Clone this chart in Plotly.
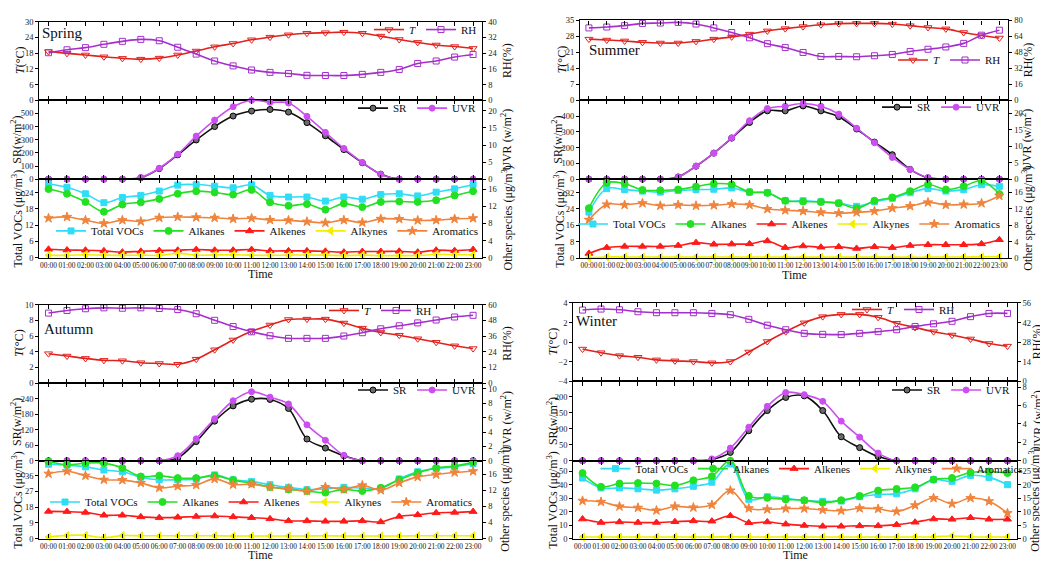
import plotly.graph_objects as go

W, H = 1040, 562
FONT = "Liberation Serif, Times New Roman, serif"

hours = ["00:00", "01:00", "02:00", "03:00", "04:00", "05:00", "06:00", "07:00",
         "08:00", "09:00", "10:00", "11:00", "12:00", "13:00", "14:00", "15:00",
         "16:00", "17:00", "18:00", "19:00", "20:00", "21:00", "22:00", "23:00"]
season_names = ["Spring", "Summer", "Autumn", "Winter"]

# ---------------- Spring ----------------
spring_T = [18.6, 17.9, 17.3, 16.6, 16.0, 15.7, 16.1, 17.3, 18.8, 20.4, 21.7, 23.1,
            24.1, 25.0, 25.6, 25.8, 26.0, 25.6, 24.5, 23.2, 22.1, 21.1, 20.5, 19.8]
spring_RH = [24.2, 25.7, 26.8, 28.5, 30.0, 31.0, 30.3, 27.0, 23.5, 20.0, 17.5, 15.4,
             14.2, 13.6, 12.7, 12.6, 12.6, 13.2, 14.2, 15.7, 18.7, 20.0, 22.0, 23.3]
spring_SR = [0, 0, 0, 0, 0, 10, 80, 185, 298, 400, 480, 518,
             530, 510, 430, 330, 225, 125, 38, 0, 0, 0, 0, 0]
spring_UVR = [0, 0, 0, 0, 0, 0.5, 3.2, 7.3, 12.6, 17.3, 21.2, 23.1,
              22.5, 22.3, 18.4, 13.7, 9.0, 4.9, 1.4, 0, 0, 0, 0, 0]
spring_TVOC = [27.2, 26.0, 23.6, 20.3, 22.2, 23.0, 24.6, 26.8, 27.0, 26.4, 25.8, 26.9,
               23.0, 22.4, 22.4, 20.9, 22.4, 21.6, 23.3, 23.6, 22.8, 24.2, 25.4, 27.0]
spring_alkanes = [16.0, 14.9, 13.0, 10.7, 12.4, 12.9, 13.7, 14.9, 15.5, 15.2, 14.7, 15.8,
                  12.9, 12.1, 12.5, 11.2, 12.6, 11.8, 13.0, 13.1, 13.0, 13.4, 14.5, 15.5]
spring_alkenes = [1.96, 1.8, 1.75, 1.6, 1.3, 1.5, 1.65, 1.75, 1.9, 1.75, 1.75, 1.9,
                  1.6, 1.6, 1.6, 1.5, 1.3, 1.45, 1.45, 1.5, 1.3, 1.75, 1.65, 1.9]
spring_alkynes = [0.6, 0.55, 0.7, 0.6, 0.55, 0.6, 0.55, 1.0, 0.6, 0.65, 0.7, 0.6,
                  0.55, 0.6, 0.65, 0.6, 0.5, 0.6, 0.5, 0.5, 0.5, 0.8, 0.7, 0.7]
spring_aromatics = [9.2, 9.5, 8.75, 8.0, 8.75, 8.45, 9.3, 9.5, 9.4, 9.3, 9.05, 9.2,
                    8.8, 8.7, 8.4, 8.15, 8.75, 8.2, 9.05, 9.0, 8.7, 8.75, 9.05, 9.2]

# ---------------- Summer ----------------
summer_T = [26.8, 26.4, 26.0, 25.4, 25.1, 25.1, 25.8, 26.8, 27.8, 29.0, 30.4, 31.4,
            32.3, 33.1, 33.6, 33.7, 33.7, 33.4, 32.7, 31.9, 31.3, 29.7, 28.4, 27.3]
summer_RH = [72.5, 73.4, 74.8, 77.0, 77.4, 78.0, 76.4, 72.5, 67.9, 62.6, 56.7, 52.8,
             47.9, 43.9, 43.9, 43.6, 44.6, 45.9, 48.9, 51.1, 53.4, 57.0, 65.2, 70.2]
summer_SR = [0, 0, 0, 0, 0, 14, 82, 165, 260, 359, 433, 433,
             464, 433, 396, 318, 235, 155, 62, 8, 0, 0, 0, 0]
summer_UVR = [0, 0, 0, 0, 0, 0.6, 4.0, 7.9, 12.6, 17.8, 21.5, 22.2,
              23.0, 22.2, 19.8, 15.5, 11.1, 6.6, 2.9, 0.5, 0, 0, 0, 0]
summer_TVOC = [22.5, 33.9, 33.4, 32.7, 32.2, 33.0, 33.4, 33.6, 34.2, 32.2, 31.9, 28.0,
               28.0, 27.5, 26.9, 25.3, 27.5, 29.2, 31.9, 33.9, 32.7, 33.4, 35.8, 35.0]
summer_alkanes = [12.1, 18.2, 18.0, 16.5, 16.4, 16.6, 17.3, 18.0, 17.8, 16.0, 15.8, 13.9,
                  13.7, 13.6, 13.3, 12.1, 13.9, 14.7, 16.2, 17.8, 16.6, 17.4, 18.7, 15.5]
summer_alkenes = [1.2, 2.6, 2.9, 2.9, 2.9, 3.1, 3.8, 3.4, 3.45, 3.5, 4.2, 2.6,
                  3.0, 2.7, 2.8, 2.4, 2.8, 2.6, 3.1, 3.3, 3.3, 3.3, 3.5, 4.5]
summer_alkynes = [0.15, 0.35, 0.35, 0.35, 0.35, 0.35, 0.35, 0.35, 0.35, 0.35, 0.35, 0.3,
                  0.3, 0.3, 0.3, 0.3, 0.3, 0.3, 0.3, 0.3, 0.35, 0.35, 0.4, 0.4]
summer_aromatics = [9.3, 13.0, 12.9, 13.3, 12.7, 12.9, 12.7, 12.8, 13.1, 12.9, 11.9, 11.6,
                    11.4, 11.1, 10.9, 11.1, 11.4, 12.1, 12.6, 13.5, 12.9, 13.0, 13.3, 15.1]

# ---------------- Autumn ----------------
autumn_T = [3.75, 3.45, 3.15, 2.9, 2.85, 2.6, 2.5, 2.4, 3.05, 4.25, 5.5, 6.6,
            7.4, 8.1, 8.15, 8.15, 7.65, 7.0, 6.45, 6.1, 5.65, 5.2, 4.75, 4.4]
autumn_RH = [53.5, 55.5, 56.8, 57.5, 57.2, 57.5, 57.0, 56.2, 53.0, 48.0, 43.2, 39.2,
             36.2, 34.2, 34.2, 34.2, 36.0, 38.5, 41.5, 43.8, 46.0, 48.2, 50.5, 51.8]
autumn_SR = [0, 0, 0, 0, 0, 0, 0, 11, 74, 153, 212, 238,
             237, 202, 84, 49, 19, 0, 0, 0, 0, 0, 0, 0]
autumn_UVR = [0, 0, 0, 0, 0, 0, 0, 0.7, 3.05, 5.85, 8.35, 9.6,
              8.85, 7.9, 5.0, 2.85, 0.75, 0, 0, 0, 0, 0, 0, 0]
autumn_TVOC = [42.5, 42.0, 41.0, 39.2, 38.2, 35.1, 33.6, 33.6, 34.0, 36.4, 33.6, 32.6,
               30.8, 29.3, 28.0, 28.5, 29.3, 28.9, 28.5, 34.1, 38.2, 40.1, 41.0, 42.9]
autumn_alkanes = [19.1, 18.3, 18.7, 18.7, 17.5, 15.4, 15.6, 15.0, 15.0, 15.6, 14.5, 13.7,
                  12.8, 12.2, 11.8, 11.4, 12.2, 11.8, 12.6, 14.6, 16.3, 17.5, 18.0, 18.9]
autumn_alkenes = [6.75, 6.7, 6.5, 5.8, 5.8, 5.4, 5.2, 5.3, 5.5, 5.6, 5.4, 5.2,
                  4.9, 4.4, 4.4, 4.3, 4.3, 4.4, 4.15, 5.5, 5.9, 6.4, 6.5, 6.7]
autumn_alkynes = [0.4, 0.8, 0.8, 0.25, 0.75, 0.7, 0.7, 0.7, 0.7, 0.7, 0.65, 0.65,
                  0.65, 0.65, 0.65, 0.7, 0.65, 0.65, 0.65, 0.65, 0.7, 0.7, 0.7, 0.7]
autumn_aromatics = [16.1, 16.7, 15.6, 14.6, 14.5, 13.8, 12.6, 13.0, 13.3, 14.8, 13.4, 13.5,
                    12.8, 12.4, 11.8, 12.8, 12.2, 13.2, 12.0, 13.8, 15.3, 15.9, 16.4, 16.7]

# ---------------- Winter ----------------
winter_T = [-0.7, -1.07, -1.37, -1.53, -1.8, -1.9, -1.97, -2.1, -1.97, -1.0, 0.07, 1.07,
            1.97, 2.6, 2.83, 2.83, 2.53, 1.93, 1.5, 1.07, 0.73, 0.33, -0.13, -0.4]
winter_RH = [50.9, 51.6, 51.1, 49.7, 49.0, 49.0, 49.0, 48.5, 47.6, 44.3, 40.1, 36.9,
             34.3, 33.6, 33.4, 34.3, 35.5, 36.9, 39.2, 41.1, 42.9, 46.2, 48.5, 48.5]
winter_SR = [0, 0, 0, 0, 0, 0, 0, 4, 26, 94, 157, 198,
             203, 157, 75, 41, 13, 0, 0, 0, 0, 0, 0, 0]
winter_UVR = [0, 0, 0, 0, 0, 0, 0, 0.2, 1.37, 3.64, 5.9, 7.4,
              7.17, 6.45, 4.3, 2.56, 0.83, 0, 0, 0, 0, 0, 0, 0]
winter_TVOC = [45.1, 37.8, 37.8, 37.1, 36.1, 37.1, 39.0, 42.0, 55.6, 29.3, 31.2, 30.0,
               28.5, 27.8, 28.0, 31.2, 32.9, 33.4, 37.1, 43.9, 42.7, 47.1, 45.6, 40.2]
winter_alkanes = [24.4, 19.3, 20.5, 20.7, 20.5, 19.8, 21.7, 23.2, 29.0, 15.9, 15.2, 14.6,
                  14.3, 13.4, 14.3, 15.9, 17.9, 18.5, 19.1, 22.0, 22.6, 24.6, 25.0, 24.4]
winter_alkenes = [7.3, 6.0, 6.2, 6.0, 6.0, 6.3, 6.6, 6.5, 8.5, 5.9, 6.2, 5.4,
                  4.9, 4.6, 4.6, 4.75, 4.75, 5.2, 6.1, 7.3, 7.2, 7.8, 7.2, 7.2]
winter_alkynes = [0.6, 0.6, 0.6, 0.6, 0.6, 0.6, 0.6, 0.6, 0.7, 0.6, 0.6, 0.6,
                  0.6, 0.6, 0.6, 0.6, 0.6, 0.6, 0.6, 0.7, 1.0, 0.7, 0.6, 0.6]
winter_aromatics = [14.1, 13.7, 12.0, 11.5, 10.5, 12.0, 11.6, 12.6, 17.9, 11.3, 10.9, 11.2,
                    11.2, 10.7, 10.4, 11.3, 11.1, 10.1, 12.4, 15.1, 13.0, 15.1, 13.9, 9.5]

season_data = [
    (spring_T, spring_RH, spring_SR, spring_UVR, spring_TVOC, spring_alkanes,
     spring_alkenes, spring_alkynes, spring_aromatics),
    (summer_T, summer_RH, summer_SR, summer_UVR, summer_TVOC, summer_alkanes,
     summer_alkenes, summer_alkynes, summer_aromatics),
    (autumn_T, autumn_RH, autumn_SR, autumn_UVR, autumn_TVOC, autumn_alkanes,
     autumn_alkenes, autumn_alkynes, autumn_aromatics),
    (winter_T, winter_RH, winter_SR, winter_UVR, winter_TVOC, winter_alkanes,
     winter_alkenes, winter_alkynes, winter_aromatics),
]

# ---------------- layout geometry (pixels) ----------------
geom = [
    dict(x0=39.3, x1=482.3, ys=[17.0, 97.0, 177.3, 257.3]),
    dict(x0=580.0, x1=1008.3, ys=[15.7, 97.0, 177.3, 258.0]),
    dict(x0=39.3, x1=482.3, ys=[305.0, 385.0, 464.0, 543.3]),
    dict(x0=573.3, x1=1016.7, ys=[303.3, 383.3, 464.0, 543.3]),
]
# (left range, left step, right range, right step) for top / middle / bottom panels
axes_spec = [
    [([0, 30], 6, [0, 40], 8), ([0, 600], 100, [0, 23.1], 5), ([0, 29], 6, [0, 18.3], 4)],
    [([0, 35], 7, [0, 80], 16), ([0, 500], 100, [0, 24], 5), ([0, 38.5], 8, [0, 19.1], 4)],
    [([0, 10], 2, [0, 60], 12), ([0, 300], 60, [0, 10.8], 2), ([0, 44.5], 9, [0, 19.3], 4)],
    [([-4, 4], 2, [0, 56], 14), ([0, 248], 50, [0, 8.6], 2), ([0, 58], 10, [0, 29], 5)],
]
season_label_pos = [(40, 29), (587, 46), (42, 330), (574, 322)]
left_title_x = [(20, 17, 17), (562, 558, 560), (19, 17, 18), (553, 552, 553)]
right_title_x = [(507, 507, 507), (1028, 1027, 1028), (507, 507, 505), (1037, 1037, 1035)]
legend_pos = [
    [(482, 25, "right"), (482, 105, "right"), (484, 230, "right")],
    [(1006, 56, "right"), (1006, 104, "right"), (1006, 223, "right")],
    [(437, 311, "right"), (482, 392, "right"), (478, 506, "right")],
    [(960, 310, "right"), (1016, 392, "right"), (812, 472, "center")],
]

C_T = "#E3211C"
C_RH = "#A52FCB"
C_SR = "#111111"
C_UVR = "#CC4EF0"
C_TV = "#2FDDF5"
C_AN = "#22E022"
C_EN = "#FF1A1A"
C_YN = "#F2EE00"
C_AR = "#F0843C"

fig = go.Figure()
layout = {}
annotations = []


def xr(n):
    return "x" if n == 1 else f"x{n}"


def yr(n):
    return "y" if n == 1 else f"y{n}"


def key(prefix, n):
    return prefix if n == 1 else f"{prefix}{n}"


def ticks_for(rng, step, include_top):
    vals = []
    v = rng[0]
    while v <= rng[1] + 1e-9:
        if include_top or v < rng[1] - 1e-9:
            vals.append(round(v, 6))
        v += step
    return vals


def line_trace(y, name, color, symbol, size, xa, ya, leg, fill=None, mlc=None):
    return go.Scatter(
        x=hours, y=y, name=name, mode="lines+markers",
        line=dict(color=color, width=1.6, shape="spline", smoothing=1.0),
        marker=dict(symbol=symbol, size=size, color=fill if fill else color,
                    line=dict(color=mlc if mlc else color, width=1)),
        xaxis=xa, yaxis=ya, legend=leg, cliponaxis=False,
    )


for si in range(4):
    g = geom[si]
    T, RH, SR, UVR, TV, AN, EN, YN, AR = season_data[si]
    for p in range(3):
        k = si * 3 + p
        xn, yl, yrn = k + 1, 2 * k + 1, 2 * k + 2
        ytop, ybot = g["ys"][p], g["ys"][p + 1]
        lr, ls, rr, rs = axes_spec[si][p]
        leg = key("legend", k + 1)

        layout[key("xaxis", xn)] = dict(
            domain=[g["x0"] / W, g["x1"] / W], anchor=yr(yl), type="category",
            categoryorder="array", categoryarray=hours, range=[-0.5, 23.5],
            tickmode="array", tickvals=hours, ticktext=hours, tickangle=0,
            showticklabels=(p == 2), ticks="inside", ticklen=4, tickcolor="black",
            showline=True, linecolor="black", linewidth=1.3, mirror="ticks",
            showgrid=False, zeroline=False,
            tickfont=dict(family=FONT, size=7.4, color="#111"),
        )
        common_y = dict(
            ticks="outside", ticklen=3, tickcolor="black", showline=True,
            linecolor="black", linewidth=1.3, showgrid=False, zeroline=False,
            tickfont=dict(family=FONT, size=8.5, color="#222"), tickmode="array",
        )
        layout[key("yaxis", yl)] = dict(
            domain=[1 - ybot / H, 1 - ytop / H], anchor=xr(xn), range=lr,
            tickvals=ticks_for(lr, ls, p == 0), side="left", **common_y)
        layout[key("yaxis", yrn)] = dict(
            overlaying=yr(yl), anchor=xr(xn), range=rr,
            tickvals=ticks_for(rr, rs, p == 0), side="right", **common_y)

        lx, ly, lanc = legend_pos[si][p]
        layout[leg] = dict(
            x=lx / W, y=1 - ly / H, xanchor=lanc, yanchor="middle",
            orientation="h", bgcolor="rgba(0,0,0,0)", borderwidth=0,
            font=dict(family=FONT, size=11, color="#111"), itemwidth=30,
            tracegroupgap=0, itemclick=False, itemdoubleclick=False,
        )

        xa, ya_l, ya_r = xr(xn), yr(yl), yr(yrn)
        if p == 0:
            fig.add_trace(line_trace(T, "<i>T</i>", C_T, "triangle-down-open", 7, xa, ya_l, leg))
            fig.add_trace(line_trace(RH, "RH", C_RH, "square-open", 6, xa, ya_r, leg))
            title_l, title_r = "<i>T</i>(°C)", "RH(%)"
        elif p == 1:
            fig.add_trace(line_trace(SR, "SR", C_SR, "circle", 6, xa, ya_l, leg,
                                     fill="#6a6a6a", mlc="#000"))
            fig.add_trace(line_trace(UVR, "UVR", C_UVR, "circle", 6, xa, ya_r, leg))
            title_l, title_r = "SR(w/m<sup>2</sup>)", "UVR (w/m<sup>2</sup>)"
        else:
            fig.add_trace(line_trace(TV, "Total VOCs", C_TV, "square", 6, xa, ya_l, leg))
            fig.add_trace(line_trace(AN, "Alkanes", C_AN, "circle", 7, xa, ya_r, leg))
            fig.add_trace(line_trace(EN, "Alkenes", C_EN, "triangle-up", 7, xa, ya_r, leg))
            fig.add_trace(line_trace(YN, "Alkynes", C_YN, "triangle-left", 7, xa, ya_r, leg))
            fig.add_trace(line_trace(AR, "Aromatics", C_AR, "star", 7, xa, ya_r, leg))
            title_l, title_r = "Total VOCs (μg/m<sup>3</sup>)", "Other species (μg/m<sup>3</sup>)"

        yc = 1 - (ytop + ybot) / 2 / H
        annotations.append(dict(text=title_l, x=left_title_x[si][p] / W, y=yc,
                                xref="paper", yref="paper", textangle=-90, showarrow=False,
                                xanchor="center", yanchor="middle",
                                font=dict(family=FONT, size=12, color="#111")))
        annotations.append(dict(text=title_r, x=right_title_x[si][p] / W, y=yc,
                                xref="paper", yref="paper", textangle=-90, showarrow=False,
                                xanchor="center", yanchor="middle",
                                font=dict(family=FONT, size=12, color="#111")))

    sx, sy = season_label_pos[si]
    annotations.append(dict(text=season_names[si], x=sx / W, y=1 - sy / H, xref="paper",
                            yref="paper", showarrow=False, xanchor="left", yanchor="middle",
                            font=dict(family=FONT, size=15, color="#111")))
    annotations.append(dict(text="Time", x=(g["x0"] + g["x1"]) / 2 / W,
                            y=1 - (g["ys"][3] + 17) / H, xref="paper", yref="paper",
                            showarrow=False, xanchor="center", yanchor="middle",
                            font=dict(family=FONT, size=12, color="#111")))

fig.update_layout(
    width=W, height=H, margin=dict(l=0, r=0, t=0, b=0),
    paper_bgcolor="white", plot_bgcolor="rgba(0,0,0,0)",
    annotations=annotations, **layout,
)

fig.write_html("out.html", config={"displayModeBar": False},
               post_script="document.body.style.margin='0';document.body.style.padding='0';")
